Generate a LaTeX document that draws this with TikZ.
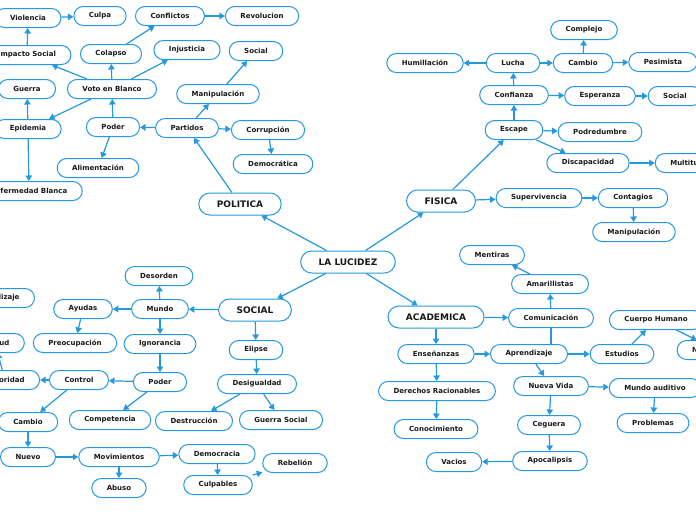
\documentclass[tikz,border=0pt]{standalone}
\usepackage{fontspec}
\setmainfont{DejaVu Sans}
\usetikzlibrary{arrows.meta}
\definecolor{mapblue}{RGB}{38,152,222}

\begin{document}
\begin{tikzpicture}[
    x=1pt, y=-1pt,
    box/.style={draw=mapblue, line width=1pt, fill=white, rounded corners=9.5pt,
        minimum height=19pt, inner xsep=15pt, inner ysep=0pt, text=black!90,
        font=\bfseries\fontsize{7}{8}\selectfont},
    topic/.style={box, minimum height=22pt, rounded corners=11pt, inner xsep=18pt,
        font=\bfseries\fontsize{9}{10}\selectfont},
    link/.style={draw=mapblue, line width=1.2pt, -{Triangle[length=5.5pt, width=6.5pt]}},
    plain/.style={draw=mapblue, line width=1.2pt}
]
    \useasboundingbox (0,0) rectangle (696,520);

    % --- Centre and main topics
    \node[topic] (root) at (348,262) {LA LUCIDEZ};
    \node[topic] (pol)  at (240,204) {POLITICA};
    \node[topic] (fis)  at (441,201) {FISICA};
    \node[topic] (soc)  at (255,310) {SOCIAL};
    \node[topic] (aca)  at (436,317) {ACADEMICA};

    % --- Politica (top left)
    \node[box] (viol)   at (28,18)   {Violencia};
    \node[box] (culpa)  at (100,16)  {Culpa};
    \node[box] (confl)  at (170,16)  {Conflictos};
    \node[box] (revol)  at (262,16)  {Revolucion};
    \node[box] (impac)  at (27,55)   {Impacto Social};
    \node[box] (colap)  at (111,54)  {Colapso};
    \node[box] (injus)  at (187,50)  {Injusticia};
    \node[box] (psoc)   at (256,51)  {Social};
    \node[box] (guerra) at (27,89)   {Guerra};
    \node[box] (voto)   at (112,89)  {Voto en Blanco};
    \node[box] (pmanip) at (218,94)  {Manipulación};
    \node[box] (epid)   at (28,129)  {Epidemia};
    \node[box] (ppoder) at (113,127) {Poder};
    \node[box] (part)   at (187,128) {Partidos};
    \node[box] (corr)   at (268,130) {Corrupción};
    \node[box] (alim)   at (98,168)  {Alimentación};
    \node[box] (democ)  at (273,164) {Democrática};
    \node[box] (enfer)  at (29,191)  {Enfermedad Blanca};

    % --- Fisica (top right)
    \node[box] (compl)  at (584,30)  {Complejo};
    \node[box] (humil)  at (425,63)  {Humillación};
    \node[box] (lucha)  at (513,63)  {Lucha};
    \node[box] (fcamb)  at (583,63)  {Cambio};
    \node[box] (pesim)  at (663,62)  {Pesimista};
    \node[box] (confi)  at (514,95)  {Confianza};
    \node[box] (esper)  at (600,96)  {Esperanza};
    \node[box] (fsoc)   at (675,96)  {Social};
    \node[box] (escap)  at (514,130) {Escape};
    \node[box] (podre)  at (600,132) {Podredumbre};
    \node[box] (disca)  at (588,163) {Discapacidad};
    \node[box] (multi)  at (687,163) {Multitud};
    \node[box] (super)  at (539,198) {Supervivencia};
    \node[box] (conta)  at (633,198) {Contagios};
    \node[box] (fmanip) at (634,232) {Manipulación};

    % --- Social (bottom left)
    \node[box] (desor)  at (159,276) {Desorden};
    \node[box] (sapre)  at (-4,298)  {Aprendizaje};
    \node[box] (ayuda)  at (83,309)  {Ayudas};
    \node[box] (mundo)  at (160,309) {Mundo};
    \node[box] (actit)  at (-5,343)  {Actitud};
    \node[box] (preoc)  at (75,343)  {Preocupación};
    \node[box] (ignor)  at (160,344) {Ignorancia};
    \node[box] (elip)   at (256,350) {Elipse};
    \node[box] (autor)  at (5,380)   {Autoridad};
    \node[box] (contr)  at (79,380)  {Control};
    \node[box] (spoder) at (160,382) {Poder};
    \node[box] (desig)  at (257,384) {Desigualdad};
    \node[box] (scamb)  at (28,422)  {Cambio};
    \node[box] (compe)  at (110,420) {Competencia};
    \node[box] (destr)  at (194,421) {Destrucción};
    \node[box] (gsoc)   at (281,420) {Guerra Social};
    \node[box] (nuevo)  at (28,457)  {Nuevo};
    \node[box] (movim)  at (119,457) {Movimientos};
    \node[box] (demo)   at (217,454) {Democracia};
    \node[box] (rebel)  at (295,463) {Rebelión};
    \node[box] (abuso)  at (119,488) {Abuso};
    \node[box] (culpb)  at (218,485) {Culpables};

    % --- Academica (bottom right)
    \node[box] (menti)  at (492,255) {Mentiras};
    \node[box] (amari)  at (550,284) {Amarillistas};
    \node[box] (comun)  at (551,318) {Comunicación};
    \node[box] (cuerp)  at (656,320) {Cuerpo Humano};
    \node[box] (neces)  at (717,350) {Necesidades};
    \node[box] (ense)   at (436,354) {Enseñanzas};
    \node[box] (apre)   at (529,354) {Aprendizaje};
    \node[box] (estud)  at (622,354) {Estudios};
    \node[box] (derec)  at (437,391) {Derechos Racionables};
    \node[box] (nvida)  at (551,386) {Nueva Vida};
    \node[box] (maudi)  at (655,388) {Mundo auditivo};
    \node[box] (conoc)  at (436,429) {Conocimiento};
    \node[box] (cegue)  at (549,425) {Ceguera};
    \node[box] (probl)  at (653,423) {Problemas};
    \node[box] (vacio)  at (454,462) {Vacios};
    \node[box] (apoca)  at (550,461) {Apocalipsis};

    % --- links from the centre
    \draw[link] (root) -- (pol);
    \draw[link] (root) -- (fis);
    \draw[link] (root) -- (soc);
    \draw[link] (root) -- (aca);

    % --- politica links
    \draw[link] (pol) -- (part);
    \draw[link] (part) -- (pmanip);
    \draw[link] (pmanip) -- (psoc);
    \draw[link] (part) -- (corr);
    \draw[link] (corr) -- (democ);
    \draw[link] (part) -- (ppoder);
    \draw[link] (ppoder) -- (voto);
    \draw[link] (ppoder) -- (alim);
    \draw[link] (voto) -- (impac);
    \draw[link] (voto) -- (colap);
    \draw[link] (voto) -- (injus);
    \draw[link] (voto) -- (epid);
    \draw[link] (colap) -- (confl);
    \draw[link] (confl) -- (revol);
    \draw[link] (impac) -- (viol);
    \draw[link] (viol) -- (culpa);
    \draw[link] (epid) -- (guerra);
    \draw[link] (epid) -- (enfer);

    % --- fisica links
    \draw[link] (fis) -- (escap);
    \draw[link] (fis) -- (super);
    \draw[link] (escap) -- (confi);
    \draw[link] (escap) -- (podre);
    \draw[link] (escap) -- (disca);
    \draw[link] (disca) -- (multi);
    \draw[link] (confi) -- (lucha);
    \draw[link] (confi) -- (esper);
    \draw[link] (esper) -- (fsoc);
    \draw[link] (lucha) -- (humil);
    \draw[link] (lucha) -- (fcamb);
    \draw[link] (fcamb) -- (compl);
    \draw[link] (fcamb) -- (pesim);
    \draw[link] (super) -- (conta);
    \draw[link] (conta) -- (fmanip);

    % --- social links
    \draw[link] (soc) -- (mundo);
    \draw[link] (soc) -- (elip);
    \draw[link] (elip) -- (desig);
    \draw[link] (desig) -- (destr);
    \draw[link] (desig) -- (gsoc);
    \draw[link] (mundo) -- (desor);
    \draw[link] (mundo) -- (ayuda);
    \draw[link] (mundo) -- (ignor);
    \draw[link] (ayuda) -- (preoc);
    \draw[link] (ignor) -- (spoder);
    \draw[link] (spoder) -- (contr);
    \draw[link] (spoder) -- (compe);
    \draw[link] (contr) -- (autor);
    \draw[link] (contr) -- (scamb);
    \draw[link] (autor) -- (actit);
    \draw[link] (actit) -- (sapre);
    \draw[link] (scamb) -- (nuevo);
    \draw[link] (nuevo) -- (movim);
    \draw[link] (movim) -- (demo);
    \draw[link] (movim) -- (abuso);
    \draw[link] (demo) -- (culpb);
    \draw[link] (culpb) -- (rebel);

    % --- academica links
    \draw[link] (aca) -- (comun);
    \draw[link] (aca) -- (ense);
    \draw[link] (comun) -- (amari);
    \draw[link] (amari) -- (menti);
    \draw[plain] (comun) -- (comun |- apre.north);
    \draw[link] (ense) -- (apre);
    \draw[link] (ense) -- (derec);
    \draw[link] (derec) -- (conoc);
    \draw[link] (apre) -- (estud);
    \draw[link] (apre) -- (nvida);
    \draw[link] (estud) -- (cuerp);
    \draw[link] (cuerp) -- (neces);
    \draw[link] (nvida) -- (maudi);
    \draw[link] (nvida) -- (cegue);
    \draw[link] (maudi) -- (probl);
    \draw[link] (cegue) -- (apoca);
    \draw[link] (apoca) -- (vacio);

\end{tikzpicture}
\end{document}
